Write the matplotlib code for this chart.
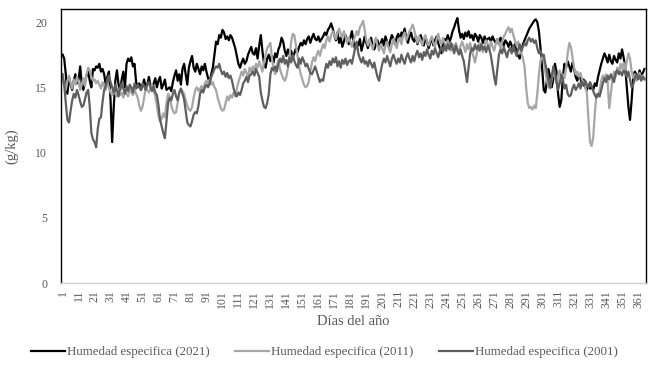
import numpy as np
import matplotlib
matplotlib.use("Agg")
import matplotlib.pyplot as plt

plt.rcParams['font.family'] = ['Liberation Serif', 'DejaVu Serif']

# humedad especifica diaria (g/kg), dias 1..365
hum_2021 = [
    17.5, 17.2, 16.0, 14.5, 15.8, 15.2, 14.8, 15.5, 16.0, 15.3,
    15.6, 16.6, 15.2, 14.8, 15.4, 15.9, 16.2, 15.5, 15.0, 16.4,
    16.3, 16.6, 16.5, 16.8, 16.2, 16.4, 16.0, 15.2, 15.8, 16.2,
    14.0, 10.8, 13.5, 15.5, 16.3, 15.2, 14.8, 15.6, 16.2, 15.0,
    16.8, 17.2, 17.0, 17.3, 16.6, 16.8, 15.4, 15.0, 15.3, 14.8,
    15.1, 15.6, 15.0, 15.2, 15.8, 15.1, 14.9, 15.3, 15.7, 15.0,
    15.5, 15.8, 14.9, 15.2, 15.6, 14.8, 14.9, 15.0, 14.7, 15.4,
    15.9, 16.3, 15.5, 16.0, 15.2, 16.4, 16.8, 16.0, 15.2, 16.5,
    17.0, 17.4, 16.5, 16.2, 16.8, 16.4, 16.0, 16.6, 16.3, 16.8,
    16.2, 15.7, 15.4, 16.0, 16.5, 17.5, 18.5, 18.3, 19.0, 18.8,
    19.4, 19.2, 18.7, 18.9, 18.6, 19.0, 18.8, 18.4, 18.0, 17.4,
    16.8, 16.5, 16.9, 17.2, 16.8, 17.0, 17.5, 17.8, 18.1, 17.6,
    17.5, 18.0, 17.2, 18.2, 19.0, 17.8, 16.8, 16.5, 17.2, 17.5,
    17.0, 17.4, 16.9, 17.6, 17.3, 17.9, 18.2, 18.8, 18.5, 17.8,
    17.4, 17.9, 17.5, 17.8, 17.3, 17.6, 18.0, 17.7, 18.1, 18.4,
    18.2, 18.6, 18.3, 18.7, 18.9, 18.4, 18.8, 19.1, 18.7, 18.6,
    18.9, 18.5, 18.7, 18.9, 19.2, 19.0, 19.4, 19.6, 19.9, 19.5,
    19.0, 18.6, 19.2, 18.4, 18.8, 18.1, 18.5, 19.0, 18.6, 18.3,
    18.8, 19.3, 18.5, 17.9, 18.4, 18.2, 18.7, 17.8, 18.3, 18.9,
    18.4, 18.0, 18.5, 18.8, 18.2, 17.9, 18.3, 18.6, 18.1, 18.4,
    18.7, 18.2, 18.9, 18.5, 18.1, 18.6, 19.0, 18.7, 18.3, 18.8,
    19.1, 18.6, 19.2, 19.0, 19.5, 18.8, 18.4, 18.9, 19.2, 18.7,
    18.5, 18.9, 18.3, 18.7, 19.0, 18.6, 18.2, 18.8, 18.5, 18.0,
    18.4, 18.8, 18.2, 18.6, 18.9, 18.4, 18.0, 17.6, 18.3, 18.7,
    18.6, 19.0, 18.5, 18.8, 19.3, 19.6, 20.0, 20.3, 19.4, 18.8,
    19.1, 18.7, 19.2, 18.9, 19.3, 18.8, 19.0, 18.6, 19.1, 18.9,
    18.5, 19.0, 18.8, 18.4, 18.9, 18.6, 18.7, 18.8, 18.5, 18.9,
    18.6, 18.4, 18.7, 18.3, 18.8, 18.5, 18.2, 18.6, 18.4, 18.1,
    18.5, 18.2, 17.8, 18.3, 17.6, 17.4, 17.2, 17.8, 18.3, 18.6,
    18.9, 19.2, 19.5, 19.7, 19.9, 20.1, 20.2, 20.0, 19.3, 18.0,
    16.5, 14.8, 14.6, 15.5, 16.4, 15.8, 15.0, 15.6, 16.8, 16.2,
    14.5, 13.5, 14.0, 15.8, 16.8, 16.5, 17.0, 16.6, 16.2, 16.9,
    16.4, 15.8, 15.5, 16.0, 15.7, 15.2, 15.6, 15.0, 14.8, 15.2,
    14.9, 15.0, 14.8, 15.3, 15.1, 15.8, 16.3, 16.8, 17.2, 17.6,
    17.3, 16.9, 17.5, 17.0, 16.8, 17.4, 17.1, 16.9, 17.6, 17.2,
    17.9, 17.3, 16.5, 15.0, 13.5, 12.5, 14.0, 15.8, 16.2, 16.0,
    15.7, 16.3, 15.9, 16.1, 16.4,
]

hum_2011 = [
    15.6, 15.2, 14.8, 15.5, 15.9, 15.3, 14.9, 15.6, 15.2, 15.8,
    15.4, 14.8, 15.2, 15.7, 15.1, 16.0, 16.5, 16.3, 15.8, 15.5,
    15.6, 15.3, 15.5, 15.2, 14.9, 15.4, 15.1, 14.8, 15.3, 15.0,
    14.6, 14.4, 14.8, 14.5, 14.3, 14.7, 14.4, 14.6, 14.2, 14.8,
    14.5, 14.3, 14.9, 14.6, 14.4, 14.8, 14.5, 14.2, 13.6, 13.2,
    13.5, 14.2, 15.0, 14.8, 14.6, 14.9, 15.2, 14.7, 14.3, 13.6,
    12.8, 12.4, 12.6, 13.0, 12.7, 13.8, 14.5, 14.3, 13.6, 13.2,
    13.0, 13.1, 13.8, 14.6, 14.9, 14.7, 14.5, 14.0, 13.6, 13.3,
    13.2, 13.5, 14.2, 14.8, 15.0, 14.7, 14.9, 15.1, 14.8, 15.3,
    15.5, 15.3, 15.6, 15.2, 15.4, 15.0, 14.8, 14.2, 13.8, 13.4,
    13.2, 13.3, 13.8, 14.3, 14.0, 14.4, 14.2, 14.6, 14.3, 14.9,
    15.4, 15.8, 16.2, 15.9, 16.4, 16.1, 15.8, 16.5, 16.2, 16.6,
    16.3, 16.8, 16.5, 17.0, 16.6, 16.2, 16.9, 17.5, 18.0, 18.2,
    18.4, 17.2, 16.5, 16.0, 16.6, 17.1, 16.4, 16.0, 15.7, 15.5,
    15.8, 16.5, 17.4, 18.5, 19.1, 19.0, 18.2, 17.4, 16.6, 16.0,
    15.6, 15.2, 15.0, 15.1, 15.4, 16.2, 16.9, 17.3, 17.0, 17.5,
    17.8, 17.4, 17.9, 18.3, 18.0, 18.6, 18.9, 18.5, 19.0, 19.3,
    19.0, 18.7, 19.2, 19.5, 19.1, 18.8, 19.3, 18.9, 18.4, 18.8,
    18.5, 18.1, 18.6, 18.9, 19.3, 19.0, 19.6, 19.8, 20.1, 19.4,
    18.6, 18.2, 18.7, 18.3, 17.9, 18.4, 18.8, 18.2, 17.8, 18.3,
    18.0, 17.6, 18.2, 18.5, 18.0, 17.7, 18.3, 18.7, 18.4, 18.0,
    18.5, 18.8, 18.3, 18.9, 19.2, 18.6, 18.9, 19.3, 19.5, 19.8,
    19.4, 18.8, 18.4, 18.9, 18.6, 18.2, 18.7, 19.0, 18.5, 18.2,
    18.6, 18.9, 18.4, 18.1, 18.7, 19.1, 18.6, 18.3, 18.8, 18.4,
    18.1, 18.6, 18.2, 17.8, 18.3, 17.9, 18.4, 18.0, 17.6, 18.2,
    18.5, 18.1, 17.7, 18.3, 17.9, 18.4, 17.8, 17.4, 16.9, 17.5,
    18.0, 18.4, 18.1, 17.7, 18.2, 18.6, 18.3, 17.9, 18.5, 18.1,
    17.8, 18.3, 18.7, 18.4, 18.0, 18.5, 18.9, 19.1, 19.4, 19.6,
    19.2, 19.5, 19.0, 18.6, 18.2, 18.5, 18.0, 17.6, 17.2, 16.6,
    15.0, 13.8, 13.4, 13.5, 13.3, 13.6, 13.4, 14.5, 16.0, 17.0,
    17.5, 17.2, 16.2, 15.5, 15.0, 14.9, 15.6, 16.2, 15.8, 15.3,
    15.9, 16.3, 15.6, 16.0, 15.7, 16.5, 17.6, 18.4, 18.1, 17.3,
    16.5, 16.0, 16.2, 15.8, 16.1, 15.6, 15.3, 15.0, 14.6, 12.5,
    10.8, 10.5, 11.2, 13.0, 14.5, 14.3, 14.8, 15.5, 15.9, 15.6,
    16.0, 15.4, 13.4, 14.5, 15.6, 16.2, 15.8, 16.5, 16.1, 16.8,
    16.4, 16.9, 16.3, 17.0, 17.6, 17.2, 16.2, 15.7, 16.0, 15.5,
    15.8, 16.1, 15.6, 15.9, 15.7,
]

hum_2001 = [
    16.0, 15.2, 13.8, 12.5, 12.3, 13.2, 14.0, 14.5, 14.2, 14.8,
    14.4, 13.9, 13.5, 13.6, 14.1, 14.6, 14.8, 13.5, 11.5, 11.0,
    10.8, 10.4, 11.8, 12.6, 12.7, 13.9, 14.8, 15.1, 15.6, 15.9,
    15.4, 15.0, 14.6, 15.2, 14.8, 14.3, 15.0, 15.3, 14.9, 14.5,
    15.1, 14.7, 15.2, 15.0, 14.6, 15.3, 14.9, 15.2, 15.0, 14.8,
    15.3, 15.1, 14.8, 15.2, 15.4, 15.0, 14.7, 15.1, 14.6, 14.4,
    13.6, 12.5, 12.0, 11.5, 11.1, 12.4, 13.8, 14.2, 14.0, 14.5,
    14.8, 14.3, 14.0, 14.6, 14.9, 14.5, 14.1, 13.2, 12.3, 12.1,
    12.0, 12.4, 12.9, 13.1, 13.0, 13.6, 14.5, 14.8, 14.6, 15.0,
    15.2, 15.0, 15.3, 15.8, 16.1, 16.4, 16.6, 16.5, 16.8, 16.3,
    16.0, 16.2, 15.8, 16.1, 15.7, 15.9, 15.5, 14.9, 14.5, 14.3,
    14.6, 14.4, 14.8, 15.3, 15.5, 15.8, 15.4, 15.9, 16.0, 16.2,
    15.9, 16.4, 16.1, 15.8, 14.6, 14.0, 13.5, 13.4, 13.8, 14.5,
    16.0, 16.5, 16.3, 16.6, 16.2, 16.8, 17.2, 16.9, 17.4, 16.8,
    17.1, 16.6, 17.3, 16.9, 17.5, 17.0, 16.7, 16.5, 17.2, 16.8,
    17.3, 17.0, 16.6, 16.8, 16.4, 16.1, 16.0, 16.3, 16.6, 16.2,
    15.8, 15.4, 15.6, 15.5, 16.2, 16.8, 16.5, 17.0, 16.7, 17.2,
    16.9, 17.3, 16.6, 17.0, 16.5, 17.1, 16.8, 17.2, 16.7, 17.0,
    17.1, 16.8, 17.4, 18.0, 18.5, 17.6, 17.2, 16.9, 17.3, 16.8,
    17.0, 16.6, 17.1, 16.8, 16.5, 16.9, 16.3, 15.8, 15.5, 16.2,
    16.8, 17.2, 16.9, 17.4, 17.0, 16.6, 17.2, 17.5, 17.1, 16.8,
    17.2, 16.9, 17.5, 17.1, 16.8, 17.3, 17.6, 17.2, 16.9, 17.4,
    17.0, 17.5, 17.8, 17.3, 17.6, 17.1, 17.7, 17.4, 17.9, 17.5,
    17.2, 17.8, 17.5, 18.0, 17.6, 17.3, 17.8, 18.1, 17.7, 18.2,
    17.8, 18.3, 17.9, 18.4, 18.0, 17.6, 18.2, 17.8, 17.5, 17.9,
    17.4, 17.0, 16.2, 15.4, 16.5, 17.6, 18.0, 17.8, 18.3, 17.9,
    18.2, 17.8, 18.3, 17.9, 18.1, 17.7, 18.2, 17.9, 17.4, 16.6,
    15.8, 15.2, 16.4, 17.5, 17.9, 17.6, 18.1, 17.7, 17.3, 17.8,
    18.0, 17.6, 18.2, 17.8, 17.4, 17.9, 18.3, 17.8, 18.1, 18.4,
    18.2, 18.6, 18.8, 18.5, 18.7, 18.4, 18.6, 18.0, 17.6, 17.8,
    17.4, 17.5, 16.8, 16.3, 15.5, 15.0, 15.8, 16.6, 16.2, 15.4,
    14.8, 15.3, 16.0, 15.6, 14.9, 15.2, 14.5, 14.3, 14.4, 14.9,
    15.2, 14.8, 15.0, 15.3, 14.9, 15.4, 15.1, 15.5, 15.2, 15.0,
    15.4, 15.1, 14.7, 14.4, 14.2, 14.5, 14.3, 14.8, 15.3, 15.7,
    15.4, 15.9, 15.6, 16.0, 15.7, 15.4, 16.1, 16.3, 16.0, 16.2,
    15.9, 16.3, 16.1, 15.8, 16.2, 15.6, 15.0, 15.2, 15.7, 16.0,
    15.6, 15.9, 15.5, 15.8, 15.6,
]

series = [
    ("Humedad especifica (2021)", hum_2021, "#000000"),
    ("Humedad especifica (2011)", hum_2011, "#a6a6a6"),
    ("Humedad especifica (2001)", hum_2001, "#5f5f5f"),
]

dias = np.arange(1, len(hum_2021) + 1)
text_col = "#595959"

fig = plt.figure(figsize=(6.49, 3.70), dpi=100)
ax = fig.add_axes([61 / 649, 1 - 283 / 370, 585 / 649, 274 / 370])

for label, vals, col in series:
    ax.plot(dias, vals, color=col, lw=1.6, label=label)

ax.set_xlim(0, 366)
ax.set_ylim(0, 21)
ax.set_yticks([0, 5, 10, 15, 20])
ax.set_xticks(dias[::10])
ax.set_xticklabels([str(d) for d in dias[::10]], rotation=90)
ax.tick_params(length=0, labelsize=8.5, labelcolor=text_col)
ax.tick_params(axis='y', pad=10)
ax.tick_params(axis='x', pad=5)

for s in ['left', 'top', 'right']:
    ax.spines[s].set_color('black')
    ax.spines[s].set_linewidth(1.0)
ax.spines['bottom'].set_color('#d0d0d0')
ax.spines['bottom'].set_linewidth(1.0)

ax.set_xlabel("Días del año", fontsize=10.5, color=text_col, labelpad=5)
ax.set_ylabel("(g/kg)", fontsize=10.5, color=text_col, labelpad=12)

fig.legend(loc='lower center', ncol=3, frameon=False, fontsize=9.3,
           bbox_to_anchor=(0.5, 0.0), handlelength=2.6, handletextpad=0.15,
           columnspacing=2.0, labelcolor=text_col)

fig.savefig("out.png", dpi=100)
